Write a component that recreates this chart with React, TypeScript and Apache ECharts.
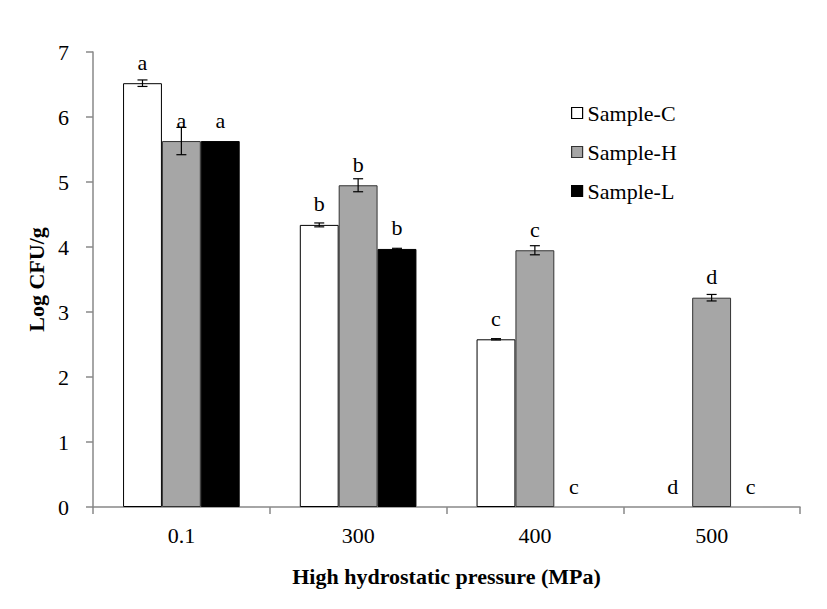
import React, { useEffect, useRef } from "react";
import * as echarts from "echarts";

const categories = ["0.1", "300", "400", "500"];
const seriesNames = ["Sample-C", "Sample-H", "Sample-L"];
const sampleC = [6.52, 4.34, 2.58, 0];
const sampleH = [5.63, 4.95, 3.95, 3.22];
const sampleL = [5.63, 3.97, 0, 0];
const errC = [0.05, 0.03, 0.01, 0];
const errH = [0.21, 0.1, 0.07, 0.05];
const errL = [0, 0.01, 0, 0];
const lettersC = ["a", "b", "c", "d"];
const lettersH = ["a", "b", "c", "d"];
const lettersL = ["a", "b", "c", "c"];
const yTicks = [0, 1, 2, 3, 4, 5, 6, 7];

const FONT = "'Liberation Serif', 'Times New Roman', serif";
const GAP = 0.34;

export default function App() {
  const ref = useRef<HTMLDivElement>(null);
  useEffect(() => {
    const chart = echarts.init(ref.current!, null, { renderer: "svg" });
    const values = [sampleC, sampleH, sampleL];
    const errs = [errC, errH, errL];
    const letters = [lettersC, lettersH, lettersL];
    const styles = [
      { color: "#ffffff", borderColor: "#000000", borderWidth: 1 },
      { color: "#a6a6a6", borderColor: "#333333", borderWidth: 1 },
      { color: "#000000", borderColor: "#000000", borderWidth: 1 },
    ];
    const barSeries = seriesNames.map((name, i) => ({
      name,
      type: "bar",
      data: values[i].map((v) =>
        v === 0
          ? { value: v, itemStyle: { borderWidth: 0, color: "rgba(0,0,0,0)" } }
          : v
      ),
      barGap: "0%",
      barCategoryGap: GAP * 100 + "%",
      itemStyle: styles[i],
      label: {
        show: true,
        position: "top",
        distance: 10,
        formatter: (p: any) => letters[i][p.dataIndex],
        color: "#000",
        fontFamily: FONT,
        fontSize: 22,
      },
    }));
    const errSeries = seriesNames.map((name, i) => ({
      type: "custom",
      name: name + "-err",
      data: values[i].map((v, k) => [k, v, errs[i][k]]),
      z: 10,
      renderItem: (params: any, api: any) => {
        const k = api.value(0);
        const v = api.value(1);
        const e = api.value(2);
        if (!e) return null;
        const catW = api.size([1, 0])[0];
        const bw = (catW * (1 - GAP)) / 3;
        const x = api.coord([k, v])[0] + (i - 1) * bw;
        const yHi = api.coord([k, v + e])[1];
        const yLo = api.coord([k, v - e])[1];
        const hw = 5;
        const st = { stroke: "#000", lineWidth: 1.2 };
        return {
          type: "group",
          children: [
            { type: "line", shape: { x1: x, y1: yHi, x2: x, y2: yLo }, style: st },
            { type: "line", shape: { x1: x - hw, y1: yHi, x2: x + hw, y2: yHi }, style: st },
            { type: "line", shape: { x1: x - hw, y1: yLo, x2: x + hw, y2: yLo }, style: st },
          ],
        };
      },
    }));
    chart.setOption({
      animation: false,
      backgroundColor: "#ffffff",
      grid: { left: 93, right: 27, top: 52, bottom: 102 },
      legend: {
        data: seriesNames.map((n, i) => ({
          name: n,
          itemStyle: { ...styles[i], borderWidth: 1.2 },
        })),
        orient: "vertical",
        left: 566,
        top: 97,
        itemWidth: 11,
        itemHeight: 11,
        itemGap: 17,
        icon: "rect",
        textStyle: { fontFamily: FONT, fontSize: 22, color: "#000" },
      },
      xAxis: {
        type: "category",
        data: categories,
        axisLine: { lineStyle: { color: "#888", width: 1.5 } },
        axisTick: { show: true, length: 7, lineStyle: { color: "#888", width: 1.5 } },
        axisLabel: { fontFamily: FONT, fontSize: 22, color: "#000", margin: 17 },
        name: "High hydrostatic pressure (MPa)",
        nameLocation: "middle",
        nameGap: 58,
        nameTextStyle: { fontFamily: FONT, fontSize: 22, fontWeight: "bold", color: "#000" },
      },
      yAxis: {
        type: "value",
        min: yTicks[0],
        max: yTicks[yTicks.length - 1],
        interval: 1,
        splitLine: { show: false },
        axisLine: { show: true, lineStyle: { color: "#888", width: 1.5 } },
        axisTick: { show: true, length: 7, lineStyle: { color: "#888", width: 1.5 } },
        axisLabel: { fontFamily: FONT, fontSize: 22, color: "#000", margin: 24 },
        name: "Log CFU/g",
        nameLocation: "middle",
        nameGap: 40,
        nameTextStyle: { fontFamily: FONT, fontSize: 22, fontWeight: "bold", color: "#000" },
      },
      series: [...barSeries, ...errSeries],
    });
    return () => chart.dispose();
  }, []);
  return <div ref={ref} style={{ width: 827, height: 609, margin: -8 }} />;
}
